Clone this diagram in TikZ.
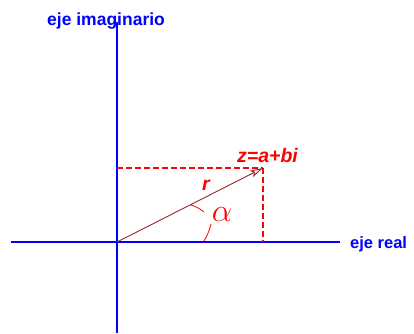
\documentclass[tikz,border=0pt]{standalone}
\usepackage{graphicx}
\usepackage{fontspec}
\setmainfont{Liberation Sans}
\usetikzlibrary{arrows.meta}
\definecolor{axisblue}{RGB}{0,0,255}
\definecolor{vecred}{RGB}{150,40,40}
\definecolor{lblred}{RGB}{255,0,0}
\begin{document}
\begin{tikzpicture}[x=1pt,y=-1pt,
  axis/.style={axisblue,line width=2.8pt},
  guide/.style={lblred,line width=1.8pt,dash pattern=on 6pt off 3pt},
  vec/.style={vecred,line width=0.9pt,-{Stealth[open,length=13pt,width=7pt,inset=3pt]}},
  arcline/.style={lblred,line width=0.8pt},
  bluelbl/.style={text=axisblue,font=\fontsize{17.5}{19}\selectfont\bfseries,inner sep=0pt},
  redlbl/.style={text=lblred,font=\fontsize{19.5}{21}\selectfont\bfseries\itshape,inner sep=0pt}]
\useasboundingbox (0,0) rectangle (414,333);
\fill[white] (0,0) rectangle (414,333);
\coordinate (O) at (117,242);
\coordinate (P) at (263,168);
\coordinate (Px) at (263,242);
\coordinate (Py) at (117,168);
\coordinate (xl) at (11,242);
\coordinate (xr) at (340,242);
\coordinate (yt) at (117,22);
\coordinate (yb) at (117,333);
\draw[axis] (xl) -- (xr);
\draw[axis] (yt) -- (yb);
\draw[guide] (Py) -- (P);
\draw[guide] (P) -- (Px);
\draw[vec] (O) -- (P);
\coordinate (a1) at (191,205);
\coordinate (a2) at (204,212);
\coordinate (a3) at (211,224);
\coordinate (a4) at (204,241);
\draw[arcline] (a1) to[bend left=10] (a2);
\draw[arcline] (a3) to[bend left=8] (a4);
\node[bluelbl,anchor=base west] (ly) at (47,25) {eje imaginario};
\node[bluelbl,font=\fontsize{16.5}{18}\selectfont\bfseries,anchor=base west] (lx) at (350,248) {eje real};
\node[redlbl,anchor=base west] (lz) at (237,162) {z=a+bi};
\node[redlbl,anchor=base west] (lr) at (202,190) {r};
\node[text=lblred,inner sep=0pt,font=\fontsize{24}{26}\selectfont] (la) at (222,215) {\scalebox{1.3}{$\alpha$}};
\end{tikzpicture}
\end{document}
